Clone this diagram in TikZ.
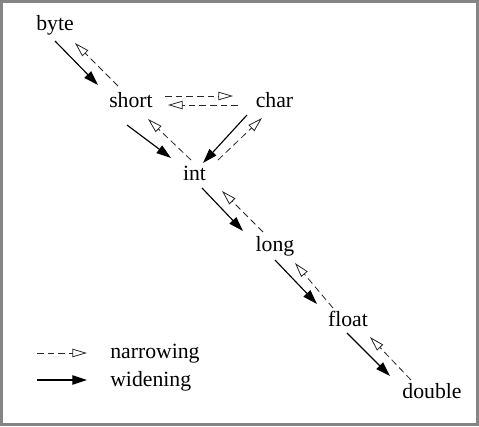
\documentclass[tikz,border=0pt]{standalone}
\usepackage{fontspec}
\setmainfont{Liberation Serif}
\usetikzlibrary{arrows.meta}
\begin{document}
\begin{tikzpicture}[x=0.75pt,y=-0.75pt,
  lbl/.style={anchor=base,inner sep=0pt,font=\fontsize{16.3}{19}\selectfont},
  wide/.style={line width=0.85pt,-{Triangle[length=11pt,width=7pt]}},
  narrow/.style={line width=0.6pt,black!85,dash pattern=on 5pt off 3pt,
    -{Triangle[open,length=11pt,width=6.3pt,line width=0.6pt]}}]
\useasboundingbox (0,0) rectangle (479,426);
\draw[line width=2.4pt,black!48] (1.5,1.5) rectangle (477.5,424.5);
\node[lbl] (byte) at (55,30) {byte};
\node[lbl] (short) at (131,107) {short};
\node[lbl] (char) at (274.5,107) {char};
\node[lbl] (int) at (194.5,180) {int};
\node[lbl] (long) at (275,251) {long};
\node[lbl] (float) at (348,326) {float};
\node[lbl] (double) at (432,398) {double};
% widening (solid)
\draw[wide] ([shift={(0,11)}]byte.base) -- ([shift={(-33,-22)}]short.base);
\draw[wide] ([shift={(-4,18)}]short.base) -- ([shift={(-23.5,-22)}]int.base);
\draw[wide] ([shift={(-27.5,8)}]char.base) -- ([shift={(8.5,-17)}]int.base);
\draw[wide] ([shift={(7.5,8)}]int.base) -- ([shift={(-32,-20)}]long.base);
\draw[wide] ([shift={(0,9)}]long.base) -- ([shift={(-31,-22)}]float.base);
\draw[wide] ([shift={(-1,7)}]float.base) -- ([shift={(-42,-22)}]double.base);
% narrowing (dashed)
\draw[narrow] ([shift={(-13,-21)}]short.base) -- ([shift={(20,13)}]byte.base);
\draw[narrow] ([shift={(34,-11)}]short.base) -- ([shift={(-41.5,-11)}]char.base);
\draw[narrow] ([shift={(-36.5,-2)}]char.base) -- ([shift={(37,-2)}]short.base);
\draw[narrow] ([shift={(-3.5,-20)}]int.base) -- ([shift={(17,12)}]short.base);
\draw[narrow] ([shift={(23.5,-20)}]int.base) -- ([shift={(-12.5,11)}]char.base);
\draw[narrow] ([shift={(-12,-19)}]long.base) -- ([shift={(27.5,11)}]int.base);
\draw[narrow] ([shift={(-15,-18)}]float.base) -- ([shift={(20,12)}]long.base);
\draw[narrow] ([shift={(-21,-18)}]double.base) -- ([shift={(22,11)}]float.base);
% legend
\node[lbl,anchor=base west] (nar) at (110,358) {narrowing};
\node[lbl,anchor=base west] (wid) at (110,386) {widening};
\coordinate (n0) at (37,353);
\coordinate (w0) at (37,380);
\draw[narrow] (n0) -- ([shift={(-23,-5)}]nar.base west);
\draw[wide] (w0) -- ([shift={(-23,-6)}]wid.base west);
\end{tikzpicture}
\end{document}
